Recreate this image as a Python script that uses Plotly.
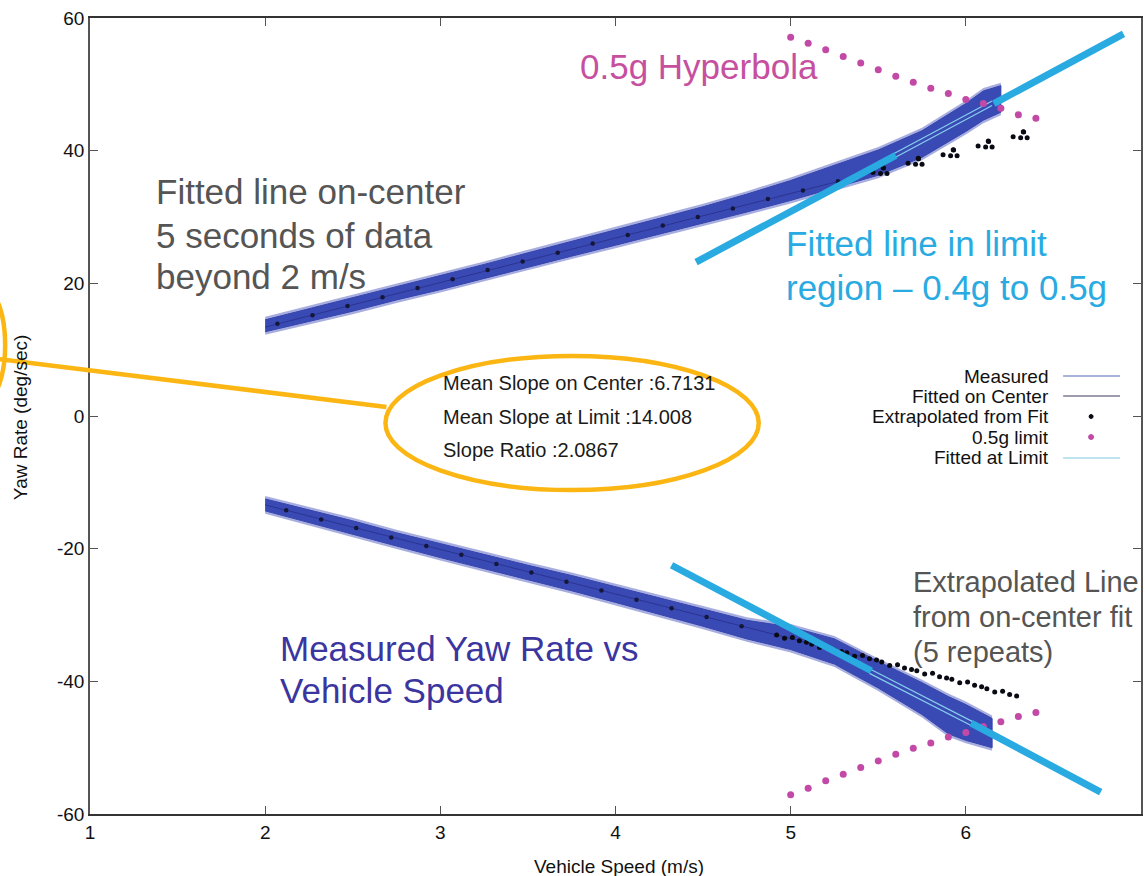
import plotly.graph_objects as go

# ---------------- data ----------------
# Measured yaw-rate band: centre line and half-width (deg/s) vs speed (m/s)
up_x = [2.0, 2.25, 2.5, 2.75, 3.0, 3.25, 3.5, 3.75, 4.0, 4.25, 4.5, 4.75, 5.0, 5.25, 5.5, 5.75, 6.0, 6.1, 6.2]
up_c = [13.6, 15.2, 16.8, 18.5, 20.1, 21.8, 23.5, 25.2, 26.9, 28.6, 30.3, 32.1, 34.0, 36.1, 38.2, 41.0, 45.0, 46.8, 47.8]
up_hw = [0.9, 0.95, 1.0, 1.0, 1.05, 1.05, 1.1, 1.1, 1.15, 1.2, 1.25, 1.35, 1.5, 1.7, 1.9, 2.0, 2.1, 2.2, 2.0]

lo_x = [2.0, 2.25, 2.5, 2.75, 3.0, 3.25, 3.5, 3.75, 4.0, 4.25, 4.5, 4.75, 5.0, 5.25, 5.5, 5.75, 5.9, 6.0, 6.15]
lo_c = [-13.4, -15.1, -16.8, -18.6, -20.3, -22.0, -23.6, -25.2, -26.9, -28.6, -30.4, -32.2, -33.5, -35.5, -39.0, -42.6, -45.1, -46.2, -47.8]
lo_hw = [0.9, 0.95, 1.0, 1.0, 1.05, 1.05, 1.1, 1.15, 1.2, 1.25, 1.3, 1.4, 1.7, 1.9, 2.0, 2.4, 2.8, 2.7, 2.2]

# Fitted on centre (slope 6.7131)
fit_c_x = [2.0, 5.5]
fit_c_up_y = [13.4, 36.9]
fit_c_lo_y = [-13.4, -36.9]

# Extrapolated from fit -- single dots where the 5 repeats coincide (inside the band)
ext_up_x = [2.07, 2.27, 2.47, 2.67, 2.87, 3.07, 3.27, 3.47, 3.67, 3.87, 4.07, 4.27, 4.47, 4.67, 4.87,
            5.07, 5.27]
ext_up_y = [13.9, 15.2, 16.6, 17.9, 19.3, 20.6, 22.0, 23.3, 24.6, 26.0, 27.3, 28.7, 30.0, 31.3, 32.7,
            34.0, 35.4]
ext_lo_x = [2.12, 2.32, 2.52, 2.72, 2.92, 3.12, 3.32, 3.52, 3.72, 3.92, 4.12, 4.32, 4.52, 4.72]
ext_lo_y = [-14.2, -15.6, -16.9, -18.3, -19.6, -20.9, -22.3, -23.6, -25.0, -26.3, -27.7, -29.0, -30.3, -31.7]

# Extrapolated from fit -- cluster base points where the 5 repeats spread out
cl_up_x = [5.47, 5.67, 5.87, 6.07, 6.27]
cl_up_y = [36.7, 38.1, 39.4, 40.7, 42.1]
rep_up_dx = [0.0, 0.043, 0.058, 0.08, 0.06]
rep_up_dy = [0.0, -0.15, 0.75, -0.15, 0.7]

cl_lo_x = [4.92, 5.12, 5.32, 5.52, 5.72, 5.92, 6.12]
cl_lo_y = [-33.0, -34.4, -35.7, -37.1, -38.4, -39.7, -41.1]
rep_lo_dx = [0.0, 0.045, 0.09, 0.13, 0.17]
rep_lo_dy = [0.0, -0.5, -0.4, -0.9, -1.1]

# 0.5 g limit hyperbola
hyp_x = [5.0, 5.1, 5.2, 5.3, 5.4, 5.5, 5.6, 5.7, 5.8, 5.9, 6.0, 6.1, 6.2, 6.3, 6.4]
hyp_up_y = [57.1, 56.2, 55.2, 54.2, 53.2, 52.2, 51.2, 50.3, 49.4, 48.6, 47.7, 47.1, 46.4, 45.4, 44.9]
hyp_lo_y = [-57.1, -56.1, -55.0, -54.0, -53.0, -52.0, -51.0, -50.1, -49.3, -48.4, -47.7, -46.8, -46.1, -45.3, -44.7]

# Fitted at limit (thin, inside the band)
lim_up_x = [5.5, 6.15]
lim_up_y1 = [38.3, 47.5]
lim_up_y2 = [37.6, 46.8]
lim_lo_x = [5.45, 6.1]
lim_lo_y1 = [-38.8, -47.6]
lim_lo_y2 = [-38.1, -46.9]

# Highlight lines (slope ~14) drawn over the plot
hl_up_x = [4.46, 5.60, None, 6.16, 6.90]
hl_up_y = [23.2, 39.3, None, 47.1, 57.6]
hl_lo_x = [4.32, 5.46, None, 6.03, 6.77]
hl_lo_y = [-22.5, -38.4, None, -46.3, -56.7]

x_ticks = [1, 2, 3, 4, 5, 6, 7]
y_ticks = [-60, -40, -20, 0, 20, 40, 60]
y_tick_text = ["-60", "-40", "-20", "0", "20", "40", "60"]

# ---------------- styling helpers ----------------
W, H = 1145, 876
L, R, T, B = 90, 1143, 18, 814
FONT = "Liberation Sans, Arial, sans-serif"
BAND = "#3A4AB4"
CYAN = "#29ABE2"
ORANGE = "#FBB614"


def px(x):
    return (x - L) / (R - L)


def py(y):
    return (B - y) / (B - T)


def band_poly(xs, c, hw, extra):
    top = [ci + h + extra for ci, h in zip(c, hw)]
    bot = [ci - h - extra for ci, h in zip(c, hw)]
    return xs + xs[::-1], top + bot[::-1]


fig = go.Figure()

for xs, c, hw in [(up_x, up_c, up_hw), (lo_x, lo_c, lo_hw)]:
    bx, by = band_poly(xs, c, hw, 0.45)
    fig.add_trace(go.Scatter(x=bx, y=by, fill="toself", fillcolor="rgba(60,76,185,0.45)",
                             line=dict(width=0), mode="lines", hoverinfo="skip"))
    bx, by = band_poly(xs, c, hw, 0.0)
    fig.add_trace(go.Scatter(x=bx, y=by, fill="toself", fillcolor=BAND,
                             line=dict(width=1, color="#3545AE"), mode="lines", hoverinfo="skip"))

# fitted on centre
for yy in (fit_c_up_y, fit_c_lo_y):
    fig.add_trace(go.Scatter(x=fit_c_x, y=yy, mode="lines", line=dict(color="#2A3592", width=1)))

# fitted at limit (thin)
for xx, yy in [(lim_up_x, lim_up_y1), (lim_up_x, lim_up_y2), (lim_lo_x, lim_lo_y1), (lim_lo_x, lim_lo_y2)]:
    fig.add_trace(go.Scatter(x=xx, y=yy, mode="lines", line=dict(color="#86CFEC", width=1.2)))

# extrapolated dots: singles inside the band
fig.add_trace(go.Scatter(x=ext_up_x + ext_lo_x, y=ext_up_y + ext_lo_y, mode="markers",
                         marker=dict(color="#14163A", size=4.5)))
# extrapolated dots: spread clusters
ex, ey = [], []
for bx_, by_ in zip(cl_up_x, cl_up_y):
    for ddx, ddy in zip(rep_up_dx, rep_up_dy):
        ex.append(bx_ + ddx)
        ey.append(by_ + ddy)
for bx_, by_ in zip(cl_lo_x, cl_lo_y):
    for ddx, ddy in zip(rep_lo_dx, rep_lo_dy):
        ex.append(bx_ + ddx)
        ey.append(by_ + ddy)
fig.add_trace(go.Scatter(x=ex, y=ey, mode="markers", marker=dict(color="#0A0A14", size=5)))

# 0.5 g hyperbola
fig.add_trace(go.Scatter(x=hyp_x + hyp_x, y=hyp_up_y + hyp_lo_y, mode="markers",
                         marker=dict(color="#C24AA6", size=7)))

# highlight lines
for xx, yy in [(hl_up_x, hl_up_y), (hl_lo_x, hl_lo_y)]:
    fig.add_trace(go.Scatter(x=xx, y=yy, mode="lines", line=dict(color=CYAN, width=7),
                             connectgaps=False))

# ---------------- annotations ----------------
ann = []


def text(t, x, y, size, color, xanchor="left", angle=0):
    ann.append(dict(text=t, x=px(x), y=py(y), xref="paper", yref="paper", showarrow=False,
                    xanchor=xanchor, yanchor="middle", textangle=angle,
                    font=dict(family=FONT, size=size, color=color)))


text("0.5g Hyperbola", 579, 66, 35, "#C6509F")
text("Fitted line on-center", 154, 191, 35, "#555555")
text("5 seconds of data", 154, 235, 35, "#555555")
text("beyond 2 m/s", 154, 276, 35, "#555555")
text("Fitted line in limit", 785, 244, 35, CYAN)
text("region \u2013 0.4g to 0.5g", 785, 287, 35, CYAN)
text("Extrapolated Line", 913, 582, 29, "#555555")
text("from on-center fit", 913, 617, 29, "#555555")
text("(5 repeats)", 913, 652, 29, "#555555")
text("Measured Yaw Rate vs", 278, 648, 35, "#3B35A0")
text("Vehicle Speed", 278, 690, 35, "#3B35A0")

text("Mean Slope on Center :6.7131", 442, 383, 20, "#1A1A1A")
text("Mean Slope at Limit :14.008", 442, 417, 20, "#1A1A1A")
text("Slope Ratio :2.0867", 442, 450, 20, "#1A1A1A")

legend_items = ["Measured", "Fitted on Center", "Extrapolated from Fit", "0.5g limit", "Fitted at Limit"]
legend_y = [376, 396, 416, 437, 458]
for t, yy in zip(legend_items, legend_y):
    text(t, 1053, yy, 19, "#111111", xanchor="right")

text("Vehicle Speed (m/s)", 620, 866, 19, "#111111", xanchor="center")
text("Yaw Rate (deg/sec)", 21, 418, 19, "#111111", xanchor="center", angle=-90)

# ---------------- shapes (callouts and key samples) ----------------
shapes = []


def pline(x0, y0, x1, y1, color, width):
    shapes.append(dict(type="line", xref="paper", yref="paper", x0=px(x0), y0=py(y0),
                       x1=px(x1), y1=py(y1), line=dict(color=color, width=width)))


def pell(x0, y0, x1, y1, color, width, fill="rgba(0,0,0,0)"):
    shapes.append(dict(type="circle", xref="paper", yref="paper", x0=px(x0), y0=py(y0),
                       x1=px(x1), y1=py(y1), line=dict(color=color, width=width), fillcolor=fill))


# key samples
pline(1065, 376, 1122, 376, "#5566B8", 1.2)
pline(1065, 396, 1122, 396, "#3A3A5A", 1.2)
pell(1091, 414.5, 1095, 418.5, "#0A0A14", 1, "#0A0A14")
pell(1090.5, 434.5, 1095.5, 439.5, "#C24AA6", 1, "#C24AA6")
pline(1065, 458, 1122, 458, "#A6DCEC", 1.5)

# orange callout
pell(386, 356, 760, 490, ORANGE, 4.5)
pline(387, 407, -2, 359, ORANGE, 4.5)
pell(-35, 290, 5, 400, ORANGE, 4.5)

fig.update_layout(
    width=W, height=H,
    margin=dict(l=L, r=W - R, t=T, b=H - B),
    paper_bgcolor="white", plot_bgcolor="white",
    showlegend=False,
    annotations=ann, shapes=shapes,
    font=dict(family=FONT, color="#111111"),
    xaxis=dict(range=[1, 7], tickvals=x_ticks, ticks="inside", ticklen=8, tickcolor="#555",
               showline=True, linecolor="#333", linewidth=1.5, mirror="allticks",
               showgrid=False, zeroline=False, tickfont=dict(family=FONT, size=19, color="#111")),
    yaxis=dict(range=[-60, 60], tickvals=y_ticks, ticktext=y_tick_text, ticks="inside", ticklen=8,
               tickcolor="#555", showline=True, linecolor="#555", linewidth=1.5, mirror="allticks",
               showgrid=False, zeroline=False, tickfont=dict(family=FONT, size=19, color="#111")),
)

fig.write_html("out.html")
